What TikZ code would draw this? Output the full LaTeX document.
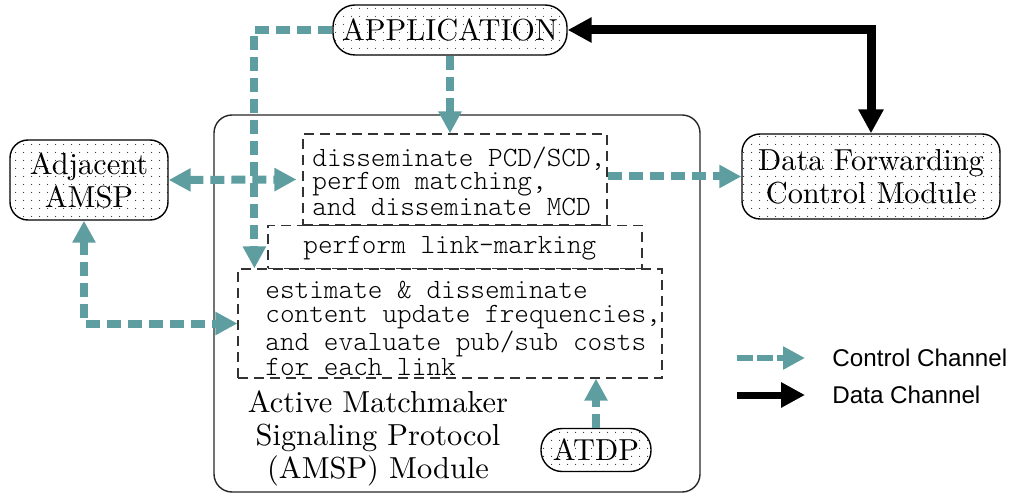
\documentclass[tikz,border=0pt]{standalone}
\usepackage{fontspec}
\newfontfamily\blkfamily{lmroman10-regular.otf}
\newfontfamily\boxfamily{lmmonolt10-regular.otf}
\setsansfont{Liberation Sans}
\usepackage{tikz}
\usetikzlibrary{arrows.meta,patterns.meta,calc}

\definecolor{ctrlcol}{RGB}{95,158,160}
\newcommand{\blkfont}{\blkfamily\fontsize{15.2}{16.5}\selectfont}
\newcommand{\ttbox}{\boxfamily\fontsize{13.95}{11.8}\selectfont}

\tikzset{
  blk/.style={draw, line width=0.7pt, rounded corners=9pt, inner sep=0pt,
    pattern={Dots[distance=4pt,radius=0.3pt]}, pattern color=black!85,
    font=\blkfont, align=center},
  dbox/.style={draw=black!80, line width=0.6pt, dash pattern=on 5pt off 3pt, inner sep=0pt},
  boxtext/.style={font=\ttbox, align=left, inner sep=0pt, anchor=west},
  ctrl/.style={draw=ctrlcol, line width=4pt, dash pattern=on 7pt off 3.5pt,
    >={Triangle[length=11pt,width=11pt]}},
  datach/.style={draw=black, line width=4.5pt, >={Triangle[length=12pt,width=12pt]}},
  legend/.style={font=\sffamily\fontsize{12.1}{14}\selectfont, anchor=west, inner sep=0pt}
}

\begin{document}
\begin{tikzpicture}[x=0.5pt,y=-0.5pt]
\useasboundingbox (0,0) rectangle (1015,496);

% module frame
\node[draw=black!85, line width=0.7pt, rounded corners=9pt,
  minimum width=243pt, minimum height=188.5pt] (amsp) at (457,303.5) {};
\node[font=\blkfont, align=center] (amsplbl) at (378,438)
  {Active Matchmaker\\Signaling Protocol\\(AMSP) Module};

% outside blocks
\node[blk, minimum width=117pt, minimum height=25pt, rounded corners=11pt] (app) at (450,30) {APPLICATION};
\node[blk, minimum width=79pt, minimum height=40pt] (adj) at (89,180) {Adjacent\\AMSP};
\node[blk, minimum width=129pt, minimum height=42.5pt] (dfcm) at (871,176.5) {Data Forwarding\\Control Module};
\node[blk, minimum width=55pt, minimum height=21.5pt, rounded corners=10.5pt] (atdp) at (596,450) {ATDP};

% dashed task boxes
\node[dbox, minimum width=187pt, minimum height=21.5pt] (mark) at (455,247) {};
\node[dbox, minimum width=152pt, minimum height=45.5pt] (dis) at (455,179.5) {};
\node[dbox, minimum width=212pt, minimum height=54.5pt] (est) at (450,323.5) {};
\node[boxtext] (distxt) at (312,181.5) {disseminate PCD/SCD,\\perfom matching,\\and disseminate MCD};
\node[boxtext] (marktxt) at (303,248) {perform link-marking};
\node[boxtext] (esttxt) at (265,328.5) {estimate \& disseminate\\content update frequencies,\\and evaluate pub/sub costs\\for each link};

% control channels
\draw[ctrl,->] (app.west) -| ([xshift=8.5pt]est.north west);
\draw[ctrl,->] (app.south) -- (app.south |- dis.north);
\draw[ctrl,<->] (adj.east) -- ([xshift=-3pt]dis.west);
\draw[ctrl,<->] ([xshift=-2.5pt]adj.south) |- (est.west);
\draw[ctrl,->] (dis.east |- dfcm.west) -- (dfcm.west);
\draw[ctrl,->] (atdp.north) -- (atdp.north |- est.south);

% data channel
\draw[datach,<->] (app.east) -| (dfcm.north);

% legend
\coordinate (lc1) at (737,358);
\coordinate (lc2) at (805,358);
\coordinate (ld1) at (737,395);
\coordinate (ld2) at (805,395);
\draw[ctrl,line width=3pt,dash pattern=on 8pt off 2pt,->] (lc1) -- (lc2);
\draw[datach,line width=3.5pt,->] (ld1) -- (ld2);
\node[legend] (lctrl) at (832,358) {Control Channel};
\node[legend] (ldata) at (832,395) {Data Channel};
\end{tikzpicture}
\end{document}
